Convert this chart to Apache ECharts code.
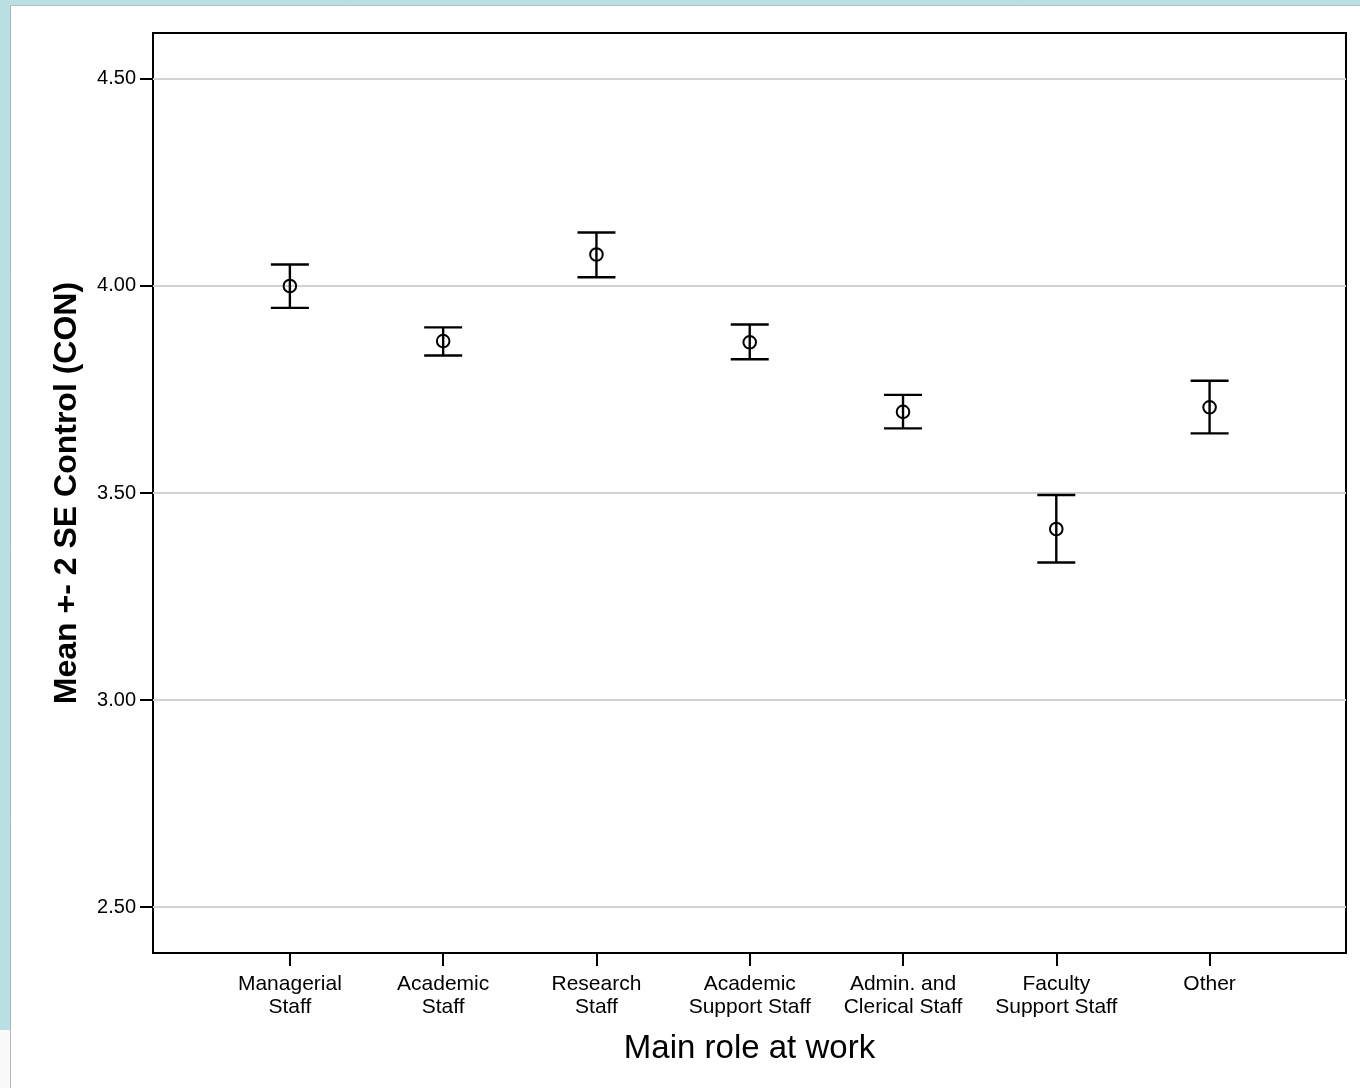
<!DOCTYPE html>
<html>
<head>
<meta charset="utf-8">
<title>Main role at work – Control (CON)</title>
<script src="https://cdn.jsdelivr.net/npm/echarts@6/dist/echarts.min.js"></script>
<style>
  html, body { margin: 0; padding: 0; background: #ffffff; }
  #chart { width: 1360px; height: 1088px; }
</style>
</head>
<body>
<div id="chart"></div>
<script>
// Groups on the x axis
const roles = [
  'Managerial\nStaff',
  'Academic\nStaff',
  'Research\nStaff',
  'Academic\nSupport Staff',
  'Admin. and\nClerical Staff',
  'Faculty\nSupport Staff',
  'Other'
];
// Mean of Control (CON) per group
const means = [4.000, 3.867, 4.076, 3.864, 3.696, 3.413, 3.707];
// Mean + 2 SE
const upper = [4.052, 3.900, 4.129, 3.907, 3.737, 3.495, 3.771];
// Mean - 2 SE
const lower = [3.947, 3.832, 4.021, 3.823, 3.656, 3.332, 3.644];
// Y axis tick values
const yTicks = [2.5, 3.0, 3.5, 4.0, 4.5];

const positions = roles.map((_, i) => i);
const barData = roles.map((_, i) => [i, lower[i], upper[i], means[i]]);

const FONT = '"Liberation Sans", Arial, sans-serif';

// Error bar: vertical line between mean -2SE and mean +2SE, caps at both ends, hollow circle at the mean
function renderErrorBar(params, api) {
  const x = api.value(0);
  const pLo = api.coord([x, api.value(1)]);
  const pHi = api.coord([x, api.value(2)]);
  const pM = api.coord([x, api.value(3)]);
  const half = 19;
  const stroke = { stroke: '#000', lineWidth: 2.4 };
  return {
    type: 'group',
    children: [
      { type: 'line', shape: { x1: pHi[0], y1: pHi[1], x2: pLo[0], y2: pLo[1] }, style: stroke },
      { type: 'line', shape: { x1: pHi[0] - half, y1: pHi[1], x2: pHi[0] + half, y2: pHi[1] }, style: stroke },
      { type: 'line', shape: { x1: pLo[0] - half, y1: pLo[1], x2: pLo[0] + half, y2: pLo[1] }, style: stroke },
      { type: 'circle', shape: { cx: pM[0], cy: pM[1], r: 6.3 }, style: { fill: null, stroke: '#000', lineWidth: 2 } }
    ]
  };
}

const chart = echarts.init(document.getElementById('chart'), null, { renderer: 'canvas' });

chart.setOption({
  animation: false,
  backgroundColor: '#ffffff',
  graphic: [
    // window frame strips
    { type: 'rect', shape: { x: 0, y: 0, width: 1360, height: 5 }, style: { fill: '#b9dfe3' }, z: -10 },
    { type: 'rect', shape: { x: 0, y: 0, width: 10, height: 1030 }, style: { fill: '#b9dfe3' }, z: -10 },
    { type: 'rect', shape: { x: 0, y: 1030, width: 10, height: 58 }, style: { fill: '#f9f9f9' }, z: -10 },
    { type: 'line', shape: { x1: 10, y1: 5.5, x2: 1360, y2: 5.5 }, style: { stroke: '#a9c3c6', lineWidth: 1 }, z: -9 },
    { type: 'line', shape: { x1: 10.5, y1: 5, x2: 10.5, y2: 1088 }, style: { stroke: '#b0b8b9', lineWidth: 1 }, z: -9 }
  ],
  grid: {
    left: 153, top: 33, right: 14, bottom: 135,
    show: true, borderColor: '#000', borderWidth: 2, backgroundColor: 'transparent'
  },
  xAxis: {
    type: 'value',
    min: -0.893,
    max: 6.89,
    name: 'Main role at work',
    nameLocation: 'middle',
    nameGap: 79,
    nameTextStyle: { fontFamily: FONT, fontSize: 33, color: '#000' },
    axisLine: { show: false, onZero: false },
    axisTick: { show: true, length: 13, lineStyle: { color: '#000', width: 2 }, customValues: positions },
    axisLabel: {
      customValues: positions,
      margin: 20,
      fontFamily: FONT, fontSize: 21, color: '#000', lineHeight: 23,
      formatter: v => roles[Math.round(v)]
    },
    splitLine: { show: false }
  },
  yAxis: {
    type: 'value',
    min: 2.389,
    max: 4.611,
    name: 'Mean +- 2 SE Control (CON)',
    nameLocation: 'middle',
    nameGap: 70,
    nameTextStyle: { fontFamily: FONT, fontSize: 32, fontWeight: 'bold', color: '#000' },
    axisLine: { show: false, onZero: false },
    axisTick: { show: true, length: 13, lineStyle: { color: '#000', width: 2 }, customValues: yTicks },
    axisLabel: {
      customValues: yTicks,
      margin: 17,
      fontFamily: FONT, fontSize: 20, color: '#000',
      formatter: v => v.toFixed(2)
    },
    splitLine: { show: true, lineStyle: { color: '#d2d2d2', width: 2 } }
  },
  series: [
    {
      type: 'custom',
      renderItem: renderErrorBar,
      encode: { x: 0, y: [1, 2, 3] },
      data: barData,
      clip: false,
      z: 5
    }
  ]
});
</script>
</body>
</html>
